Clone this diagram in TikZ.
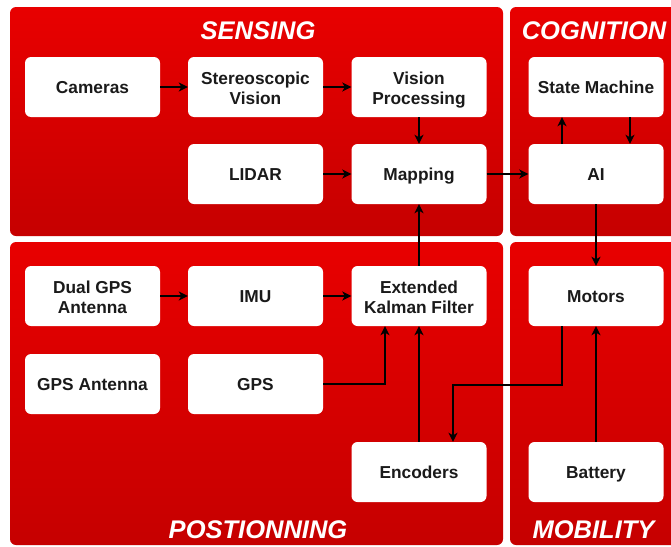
\documentclass[tikz,border=0pt]{standalone}
\usepackage{fontspec}
\setmainfont{Liberation Sans}
\usetikzlibrary{arrows.meta}
\definecolor{redtop}{RGB}{232,0,0}
\definecolor{redbot}{RGB}{198,0,0}
\definecolor{txt}{RGB}{26,26,26}
\newcommand\twolines[2]{\rule[-17pt]{0pt}{29.4pt}\smash{\begin{tabular}[t]{@{}c@{}}#1\\#2\end{tabular}}}
\tikzset{
  panel/.style={rounded corners=6pt, top color=redtop, bottom color=redbot, shading angle=0},
  block/.style={draw=none, fill=white, rounded corners=6pt, minimum width=135pt, minimum height=60pt,
    align=center, text=txt, font=\fontsize{17.3}{20}\selectfont\bfseries, inner sep=0pt},
  oneline/.style={text height=12.4pt, text depth=0pt},
  title/.style={text=white, font=\fontsize{25.5}{27}\selectfont\bfseries\itshape, anchor=base, inner sep=0pt},
  conn/.style={line width=1.5pt, black, -{Stealth[length=9pt,width=9pt,inset=2.5pt]}}
}
\begin{document}
\begin{tikzpicture}[x=1pt,y=-1pt]
\useasboundingbox (0,0) rectangle (671,546);
\fill[white] (0,0) rectangle (671,546);
% panels
\shade[panel] (10,7) rectangle (503,236);
\shade[panel] (510,7) rectangle (680,236);
\shade[panel] (10,242) rectangle (503,545);
\shade[panel] (510,242) rectangle (680,545);
% titles
\node[title] (tsens) at (258,39) {SENSING};
\node[title] (tcog) at (594,39) {COGNITION};
\node[title] (tpos) at (258,538) {POSTIONNING};
\node[title] (tmob) at (593.5,538) {MOBILITY};
% blocks
\node[block,oneline] (cam) at (92.5,87) {Cameras};
\node[block] (stereo) at (255.5,87) {\twolines{Stereoscopic}{Vision}};
\node[block] (vproc) at (419,87) {\twolines{Vision}{Processing}};
\node[block,oneline] (sm) at (596,87) {State Machine};
\node[block,oneline] (lidar) at (255.5,174) {LIDAR};
\node[block,oneline] (map) at (419,174) {Mapping};
\node[block,oneline] (ai) at (596,174) {AI};
\node[block] (dgps) at (92.5,296) {\twolines{Dual GPS}{Antenna}};
\node[block,oneline] (imu) at (255.5,296) {IMU};
\node[block] (ekf) at (419,296) {\twolines{Extended}{Kalman Filter}};
\node[block,oneline] (mot) at (596,296) {Motors};
\node[block,oneline] (gpsa) at (92.5,384) {GPS Antenna};
\node[block,oneline] (gps) at (255.5,384) {GPS};
\node[block,oneline] (enc) at (419,472) {Encoders};
\node[block,oneline] (bat) at (596,472) {Battery};
% connectors
\draw[conn] (cam) -- (stereo);
\draw[conn] (stereo) -- (vproc);
\draw[conn] (vproc) -- (map);
\draw[conn] (lidar) -- (map);
\draw[conn] (map) -- (ai);
\draw[conn] ([xshift=-34pt]ai.north) -- ([xshift=-34pt]sm.south);
\draw[conn] ([xshift=34pt]sm.south) -- ([xshift=34pt]ai.north);
\draw[conn] (ai) -- (mot);
\draw[conn] (ekf) -- (map);
\draw[conn] (dgps) -- (imu);
\draw[conn] (imu) -- (ekf);
\draw[conn] (gps.east) -| ([xshift=-34pt]ekf.south);
\draw[conn] (enc) -- (ekf);
\draw[conn] ([xshift=-34pt]mot.south) -- ++(0,59) -| ([xshift=34pt]enc.north);
\draw[conn] (bat) -- (mot);
\end{tikzpicture}
\end{document}
